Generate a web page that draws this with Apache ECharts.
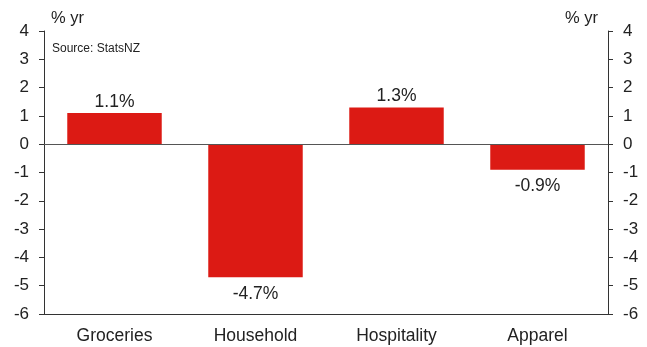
<!DOCTYPE html>
<html>
<head>
<meta charset="utf-8">
<script src="https://cdn.jsdelivr.net/npm/echarts@6/dist/echarts.min.js"></script>
<style>
html,body{margin:0;padding:0;background:#fff;}
#chart{width:647px;height:347px;}
</style>
</head>
<body>
<div id="chart"></div>
<script>
// Retail spending growth by category, annual % change
const categories = ['Groceries', 'Household', 'Hospitality', 'Apparel'];
const growth = [1.1, -4.7, 1.3, -0.9];
const yTicks = [-6, -5, -4, -3, -2, -1, 0, 1, 2, 3, 4];

const font = 'Arial, "Liberation Sans", sans-serif';
const axisColor = '#333';
const textColor = '#222';

const chart = echarts.init(document.getElementById('chart'));

const valueAxis = (pos) => ({
  type: 'value',
  position: pos,
  min: yTicks[0],
  max: yTicks[yTicks.length - 1],
  interval: 1,
  axisLine: { show: true, lineStyle: { color: axisColor, width: 1 } },
  axisTick: { show: true, length: 5, lineStyle: { color: axisColor } },
  axisLabel: { color: textColor, fontSize: 17, fontFamily: font, margin: 15 },
  splitLine: { show: false }
});

chart.setOption({
  animation: false,
  grid: { left: 44, right: 39, top: 31, bottom: 33 },
  graphic: [
    { type: 'text', left: 51, top: 10, style: { text: '% yr', fontSize: 16.5, fontFamily: font, fill: textColor } },
    { type: 'text', right: 49, top: 10, style: { text: '% yr', fontSize: 16.5, fontFamily: font, fill: textColor } },
    { type: 'text', left: 52, top: 43, style: { text: 'Source: StatsNZ', fontSize: 12, fontFamily: font, fill: textColor } }
  ],
  xAxis: {
    type: 'category',
    data: categories,
    position: 'bottom',
    axisLine: { show: true, onZero: false, lineStyle: { color: axisColor, width: 1 } },
    axisTick: { show: false },
    axisLabel: { color: textColor, fontSize: 17.5, fontFamily: font, margin: 13 }
  },
  yAxis: [valueAxis('left'), valueAxis('right')],
  series: [
    {
      type: 'bar',
      // negative bars carry their label underneath
      data: growth.map(v => ({
        value: v,
        label: { position: v < 0 ? 'bottom' : 'top' }
      })),
      barWidth: '67%',
      itemStyle: { color: '#DC1A14' },
      label: {
        show: true,
        formatter: (p) => p.value.toFixed(1) + '%',
        color: textColor,
        fontSize: 17.5,
        fontFamily: font,
        distance: 5,
        offset: [0, 3]
      },
      markLine: {
        silent: true,
        symbol: 'none',
        label: { show: false },
        lineStyle: { color: '#555', width: 1, type: 'solid' },
        data: [{ yAxis: 0 }]
      }
    }
  ]
});
</script>
</body>
</html>
